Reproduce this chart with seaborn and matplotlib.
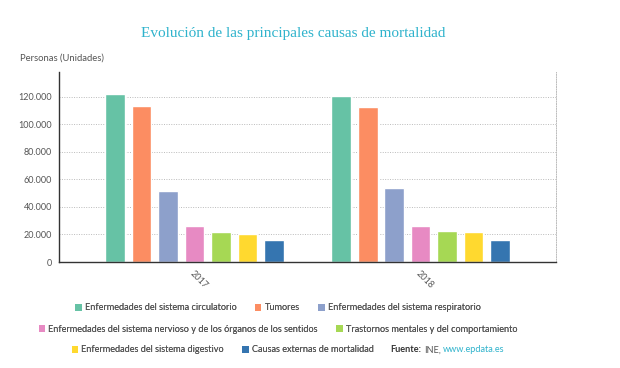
import pandas as pd
import matplotlib.pyplot as plt
import seaborn as sns
from matplotlib.patches import Patch
from matplotlib.ticker import FuncFormatter

years = ['2017', '2018']
causes = [
    'Enfermedades del sistema circulatorio',
    'Tumores',
    'Enfermedades del sistema respiratorio',
    'Enfermedades del sistema nervioso y de los órganos de los sentidos',
    'Trastornos mentales y del comportamiento',
    'Enfermedades del sistema digestivo',
    'Causas externas de mortalidad',
]
values_2017 = [122466, 113266, 51700, 26500, 21600, 20400, 15700]
values_2018 = [120859, 112714, 53600, 26500, 22300, 21600, 15800]
colors = ['#66c2a5', '#fc8d62', '#8da0cb', '#e78ac3', '#a6d854', '#ffd92f', '#3575b0']

df = pd.DataFrame({
    'Año': [years[0]] * len(causes) + [years[1]] * len(causes),
    'Causa': causes + causes,
    'Personas': values_2017 + values_2018,
})

sns.set_style('white')
plt.rcParams['font.family'] = ['Lato', 'DejaVu Sans']

W, H = 620, 368
fig = plt.figure(figsize=(W / 100, H / 100), dpi=100)
ax = fig.add_axes([0.095, 0.288, 0.802, 0.516])

sns.barplot(data=df, x='Año', y='Personas', hue='Causa', hue_order=causes,
            palette=colors, width=0.82, gap=0.25, saturation=1, legend=False, ax=ax)

ax.set_xlim(-0.6, 1.6)
ax.set_ylim(0, 138000)
ax.set_yticks(range(0, 120001, 20000))
ax.yaxis.set_major_formatter(FuncFormatter(lambda v, p: f'{int(v):,}'.replace(',', '.')))
ax.grid(True, axis='y', linestyle=(0, (1, 1.5)), color='#bbbbbb', linewidth=0.7)
ax.set_axisbelow(True)
ax.set_xlabel('')
ax.set_ylabel('')

ax.spines['top'].set_visible(False)
ax.spines['right'].set_linestyle((0, (1, 1.5)))
ax.spines['right'].set_color('#bbbbbb')
ax.spines['right'].set_linewidth(0.7)
ax.spines['left'].set_color('#333333')
ax.spines['left'].set_linewidth(1)
ax.spines['bottom'].set_color('#333333')
ax.spines['bottom'].set_linewidth(1)

ax.tick_params(axis='y', length=0, labelsize=6.5, labelcolor='#555555', pad=5)
ax.tick_params(axis='x', length=3, width=1, color='#333333', labelsize=6.5,
               labelcolor='#555555', pad=2)
for lab in ax.get_xticklabels():
    lab.set_rotation(-45)
    lab.set_ha('left')
    lab.set_va('top')
    lab.set_rotation_mode('anchor')

fig.text(293 / W, 1 - 33 / H, 'Evolución de las principales causas de mortalidad',
         ha='center', va='center', fontsize=11, color='#2fb3cc', family='Liberation Serif')
fig.text(20 / W, 1 - 58 / H, 'Personas (Unidades)', ha='left', va='center',
         fontsize=6.8, color='#555555')

handles = [Patch(facecolor=c, edgecolor='none') for c in colors]
leg_kw = dict(frameon=False, fontsize=6.6, handlelength=0.7, handleheight=0.7,
              handletextpad=0.35, columnspacing=2.0, labelcolor='#555555', borderpad=0)

for idx, y in [([0, 1, 2], 308), ([3, 4], 329)]:
    leg = fig.legend([handles[i] for i in idx], [causes[i] for i in idx],
                     loc='center', bbox_to_anchor=(278 / W, 1 - y / H),
                     ncol=len(idx), **leg_kw)
    fig.add_artist(leg)

leg3 = fig.legend([handles[5], handles[6]], [causes[5], causes[6]],
                  loc='center left', bbox_to_anchor=(67 / W, 1 - 350 / H), ncol=2, **leg_kw)
fig.add_artist(leg3)

# fuente a continuación de la última fila de la leyenda
fig.canvas.draw()
r = fig.canvas.get_renderer()
x = leg3.get_window_extent(r).x1 + 17
yy = 1 - 350 / H
for txt, col, wt, sp in [('Fuente:', '#333333', 'bold', 2.5), ('INE,', '#555555', 'normal', 2),
                         ('www.epdata.es', '#2fb3cc', 'normal', 0)]:
    t = fig.text(x / W, yy, txt, ha='left', va='center', fontsize=6.6, color=col, fontweight=wt)
    x = t.get_window_extent(r).x1 + sp

fig.savefig('out.png', dpi=100)
